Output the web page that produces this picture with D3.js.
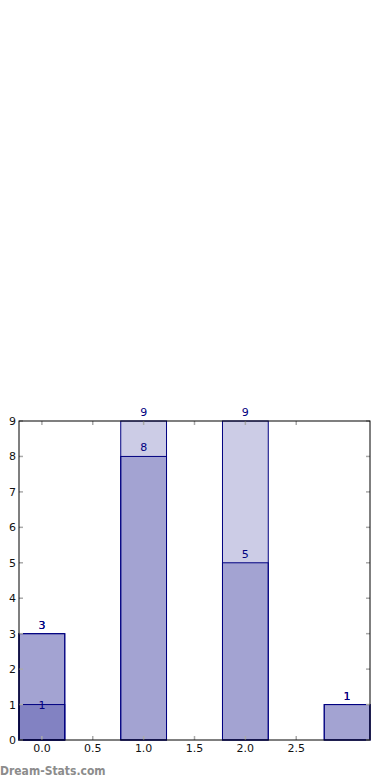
<meta charset="utf-8">
<script src="https://d3js.org/d3.v7.min.js"></script>
<style>
  body { margin: 0; background: #fff; }
  text { font-family: "DejaVu Sans", sans-serif; }
</style>
<div id="chart"></div>
<script>
// bins (bar centres) and the three overlapping series
var bins = [0, 1, 2, 3];
var seriesA = [1, 0, 0, 0];
var seriesB = [3, 9, 9, 1];
var seriesC = [3, 8, 5, 1];
var xTicks = [0.0, 0.5, 1.0, 1.5, 2.0, 2.5];
var yTicks = [0, 1, 2, 3, 4, 5, 6, 7, 8, 9];

var W = 390, H = 780;
var margin = {top: 421, right: 20, bottom: 40, left: 19},
    width = W - margin.left - margin.right,
    height = H - margin.top - margin.bottom;

var svg = d3.select("#chart").append("svg")
    .attr("width", W).attr("height", H)
  .append("g")
    .attr("transform", "translate(" + margin.left + "," + margin.top + ")");

var x = d3.scaleLinear().domain([-0.225, 3.225]).range([0, width]);
var y = d3.scaleLinear().domain([0, 9]).range([height, 0]);
var barW = 0.45;

// bars
[seriesA, seriesB, seriesC].forEach(function(s, k) {
  var data = bins.map(function(b, i) { return {b: b, v: s[i]}; });
  svg.append("g").selectAll("rect")
    .data(data.filter(function(d) { return d.v > 0; }))
    .enter().append("rect")
      .attr("x", function(d) { return x(d.b - barW / 2); })
      .attr("width", function(d) { return x(d.b + barW / 2) - x(d.b - barW / 2); })
      .attr("y", function(d) { return y(d.v); })
      .attr("height", function(d) { return y(0) - y(d.v); })
      .style("fill", "rgba(0,0,128,0.2)")
      .style("stroke", "#000080")
      .style("stroke-width", 1);
});

// value labels
[seriesA, seriesB, seriesC].forEach(function(s, k) {
  var data = bins.map(function(b, i) { return {b: b, v: s[i]}; });
  svg.append("g").selectAll("text")
    .data(data.filter(function(d) { return d.v > 0; }))
    .enter().append("text")
      .attr("x", function(d) { return x(d.b); })
      .attr("y", function(d) { return y(d.v) + (k === 0 ? 4 : -5); })
      .attr("text-anchor", "middle")
      .style("font-size", "11px")
      .style("fill", "#000080")
      .text(function(d) { return d.v; });
});

// ticks (inward, grey, on all four sides)
var tickCol = "#aaaaaa";
var tk = svg.append("g");
xTicks.forEach(function(t) {
  tk.append("line").attr("x1", x(t)).attr("x2", x(t)).attr("y1", height).attr("y2", height - 4)
    .style("stroke", tickCol).style("stroke-width", 1.5);
  tk.append("line").attr("x1", x(t)).attr("x2", x(t)).attr("y1", 0).attr("y2", 4)
    .style("stroke", tickCol).style("stroke-width", 1.5);
  svg.append("text").attr("x", x(t)).attr("y", height + 12)
    .attr("text-anchor", "middle").style("font-size", "11px").style("fill", "#111")
    .text(d3.format(".1f")(t));
});
yTicks.forEach(function(t) {
  tk.append("line").attr("x1", 0).attr("x2", 4).attr("y1", y(t)).attr("y2", y(t))
    .style("stroke", tickCol).style("stroke-width", 1.5);
  tk.append("line").attr("x1", width).attr("x2", width - 4).attr("y1", y(t)).attr("y2", y(t))
    .style("stroke", tickCol).style("stroke-width", 1.5);
  svg.append("text").attr("x", -3).attr("y", y(t) + 4)
    .attr("text-anchor", "end").style("font-size", "11px").style("fill", "#111")
    .text(t);
});

// frame
svg.append("rect").attr("width", width).attr("height", height)
  .style("fill", "none").style("stroke", "#000").style("stroke-width", 1);

// watermark
d3.select("svg").append("text")
  .attr("x", 0).attr("y", 775)
  .style("font-family", "'DejaVu Sans Condensed', 'DejaVu Sans', sans-serif")
  .style("font-stretch", "condensed")
  .style("font-size", "12px").style("font-weight", "bold").style("fill", "#8c8c8c")
  .text("Dream-Stats.com");
</script>
